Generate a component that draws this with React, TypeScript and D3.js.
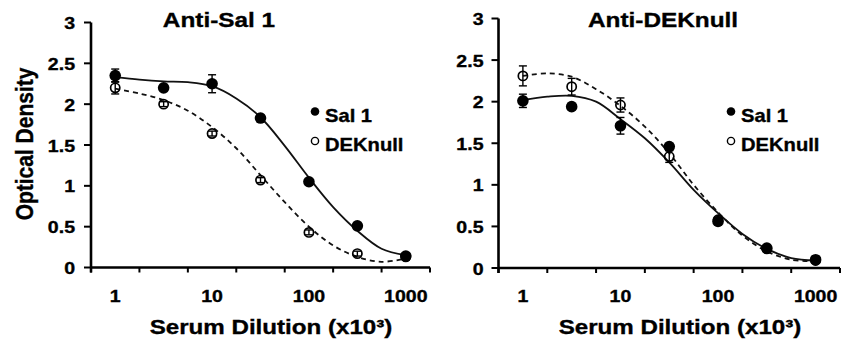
import React, { useEffect, useRef } from 'react';
import * as d3 from 'd3';

// dilution categories (x10^3), only every other one is labelled
const dilutions = ['1', '3', '10', '30', '100', '300', '1000'];
const dilutionLabels = ['1', '10', '100', '1000'];
const yTicks = [0, 0.5, 1, 1.5, 2, 2.5, 3];
const fitSteps = [0, 0.5, 1, 1.5, 2, 2.5, 3, 3.5, 4, 4.5, 5, 5.5, 6];

// Anti-Sal 1 panel
const antiSalSal1 = [2.35, 2.2, 2.25, 1.83, 1.05, 0.51, 0.14];
const antiSalSal1Err = [0.08, 0.02, 0.11, 0.02, 0.02, 0.02, 0.02];
const antiSalDek = [2.2, 2.0, 1.64, 1.07, 0.43, 0.17, 0.13];
const antiSalDekErr = [0.075, 0.03, 0.03, 0.03, 0.03, 0.03, 0.02];
const antiSalSal1Fit = [2.33, 2.3, 2.28, 2.27, 2.22, 2.07, 1.84, 1.49, 1.1, 0.74, 0.45, 0.23, 0.15];
const antiSalDekFit = [2.19, 2.13, 2.05, 1.92, 1.72, 1.46, 1.13, 0.8, 0.5, 0.27, 0.13, 0.07, 0.11];

// Anti-DEKnull panel
const antiDekSal1 = [2.01, 1.94, 1.71, 1.46, 0.56, 0.24, 0.1];
const antiDekSal1Err = [0.08, 0.02, 0.1, 0.02, 0.02, 0.02, 0.02];
const antiDekDek = [2.31, 2.18, 1.96, 1.34, 0.58, 0.23, 0.09];
const antiDekDekErr = [0.12, 0.1, 0.085, 0.07, 0.03, 0.03, 0.02];
const antiDekSal1Fit = [2.02, 2.06, 2.07, 2.0, 1.79, 1.56, 1.27, 0.94, 0.66, 0.41, 0.23, 0.12, 0.09];
const antiDekDekFit = [2.31, 2.34, 2.3, 2.15, 1.95, 1.7, 1.38, 1.0, 0.67, 0.39, 0.2, 0.1, 0.08];

const FONT = '"Liberation Sans", Arial, sans-serif';
const STRETCH = 1.15;

type Panel = {
  title: string;
  sal1: number[];
  sal1Err: number[];
  dek: number[];
  dekErr: number[];
  sal1Fit: number[];
  dekFit: number[];
  left: number;
  right: number;
  top: number;
  bottom: number;
  titleX: number;
  xTitleX: number;
  legendX: number;
  legendY: number;
  yLabelGap: number;
};

const panels: Panel[] = [
  {
    title: 'Anti-Sal 1',
    sal1: antiSalSal1, sal1Err: antiSalSal1Err, dek: antiSalDek, dekErr: antiSalDekErr,
    sal1Fit: antiSalSal1Fit, dekFit: antiSalDekFit,
    left: 91, right: 430, top: 22.5, bottom: 267.5,
    titleX: 219, xTitleX: 271, legendX: 315, legendY: 111.5, yLabelGap: 16,
  },
  {
    title: 'Anti-DEKnull',
    sal1: antiDekSal1, sal1Err: antiDekSal1Err, dek: antiDekDek, dekErr: antiDekDekErr,
    sal1Fit: antiDekSal1Fit, dekFit: antiDekDekFit,
    left: 498.5, right: 840, top: 18.5, bottom: 268,
    titleX: 663, xTitleX: 680, legendX: 731, legendY: 111.5, yLabelGap: 15,
  },
];

function label(g, text: string, x: number, y: number, size: number, anchor = 'middle', sx = STRETCH) {
  return g
    .append('text')
    .attr('transform', `translate(${x},${y}) scale(${sx},1)`)
    .attr('text-anchor', anchor)
    .attr('font-family', FONT)
    .attr('font-weight', 'bold')
    .attr('font-size', size)
    .attr('fill', '#000')
    .attr('stroke', '#000')
    .attr('stroke-width', 0.35)
    .text(text);
}

function drawPanel(svg, p: Panel) {
  const x = d3.scaleLinear().domain([-0.5, dilutions.length - 0.5]).range([p.left, p.right]);
  const y = d3.scaleLinear().domain([0, 3]).range([p.bottom, p.top]);
  const g = svg.append('g');

  // y axis
  g.append('line')
    .attr('x1', p.left).attr('x2', p.left)
    .attr('y1', y(3)).attr('y2', y(0) + 5)
    .attr('stroke', '#000').attr('stroke-width', 2.6);
  g.selectAll('.ytick')
    .data(yTicks)
    .join('line')
    .attr('x1', p.left - 7).attr('x2', p.left)
    .attr('y1', d => y(d)).attr('y2', d => y(d))
    .attr('stroke', '#000').attr('stroke-width', 2);
  yTicks.forEach(t => label(g, String(t), p.left - p.yLabelGap, y(t) + 6.5, 17, 'end'));

  // x axis (category style, ticks between categories)
  g.append('line')
    .attr('x1', p.left).attr('x2', p.right)
    .attr('y1', y(0)).attr('y2', y(0))
    .attr('stroke', '#000').attr('stroke-width', 2.6);
  g.selectAll('.xtick')
    .data(d3.range(dilutions.length + 1).map(i => i - 0.5))
    .join('line')
    .attr('x1', d => x(d)).attr('x2', d => x(d))
    .attr('y1', y(0)).attr('y2', y(0) + 5)
    .attr('stroke', '#000').attr('stroke-width', 2);
  dilutionLabels.forEach(l => label(g, l, x(dilutions.indexOf(l)), 301.5, 17));

  // titles
  label(g, p.title, p.titleX, 26.5, 21, 'middle', 1.16);
  label(g, 'Serum Dilution (x10³)', p.xTitleX, 334, 21);

  // fitted curves
  const fit = d3
    .line<number>()
    .x((_, i) => x(fitSteps[i]))
    .y(d => y(d))
    .curve(d3.curveCatmullRom.alpha(0.5));

  g.append('path')
    .datum(p.sal1Fit)
    .attr('d', fit)
    .attr('fill', 'none')
    .attr('stroke', '#111')
    .attr('stroke-width', 1.8);
  g.append('path')
    .datum(p.dekFit)
    .attr('d', fit)
    .attr('fill', 'none')
    .attr('stroke', '#111')
    .attr('stroke-width', 1.8)
    .attr('stroke-dasharray', '5,4');

  // error bars + markers
  const series = [
    { values: p.sal1, err: p.sal1Err, filled: true },
    { values: p.dek, err: p.dekErr, filled: false },
  ];
  series.forEach(s => {
    const pts = s.values.map((v, i) => ({ i, v, e: s.err[i] }));
    const eb = g.append('g').attr('stroke', '#000').attr('stroke-width', 1.4);
    pts.forEach(d => {
      eb.append('line')
        .attr('x1', x(d.i)).attr('x2', x(d.i))
        .attr('y1', y(d.v + d.e)).attr('y2', y(d.v - d.e));
      [d.v + d.e, d.v - d.e].forEach(c =>
        eb.append('line')
          .attr('x1', x(d.i) - 4).attr('x2', x(d.i) + 4)
          .attr('y1', y(c)).attr('y2', y(c))
      );
    });
    g.selectAll(null)
      .data(pts)
      .join('circle')
      .attr('cx', d => x(d.i))
      .attr('cy', d => y(d.v))
      .attr('r', s.filled ? 5.8 : 4.6)
      .attr('fill', s.filled ? '#000' : 'none')
      .attr('stroke', '#000')
      .attr('stroke-width', s.filled ? 0 : 1.7);
  });

  // legend
  g.append('circle')
    .attr('cx', p.legendX).attr('cy', p.legendY).attr('r', 4.3).attr('fill', '#000');
  label(g, 'Sal 1', p.legendX + 10, p.legendY + 10.5, 18, 'start', 1.12);
  g.append('circle')
    .attr('cx', p.legendX).attr('cy', p.legendY + 29.5).attr('r', 3.6)
    .attr('fill', 'none').attr('stroke', '#000').attr('stroke-width', 1.4);
  label(g, 'DEKnull', p.legendX + 10, p.legendY + 39.5, 18, 'start', 1.12);
}

function drawYTitle(svg) {
  svg
    .append('text')
    .attr('transform', 'translate(33,144) rotate(-90) scale(1,1.15)')
    .attr('text-anchor', 'middle')
    .attr('font-family', FONT)
    .attr('font-weight', 'bold')
    .attr('font-size', 21)
    .attr('fill', '#000')
    .attr('stroke', '#000')
    .attr('stroke-width', 0.35)
    .text('Optical Density');
}

const App = () => {
  const svgRef = useRef<SVGSVGElement>(null);

  useEffect(() => {
    const svg = d3.select(svgRef.current);
    svg.selectAll('*').remove();
    svg.append('rect').attr('width', 843).attr('height', 343).attr('fill', '#fff');
    panels.forEach(p => drawPanel(svg, p));
    drawYTitle(svg);
  }, []);

  return (
    <svg
      ref={svgRef}
      width={843}
      height={343}
      style={{ position: 'absolute', left: 0, top: 0, display: 'block' }}
    />
  );
};

export default App;
